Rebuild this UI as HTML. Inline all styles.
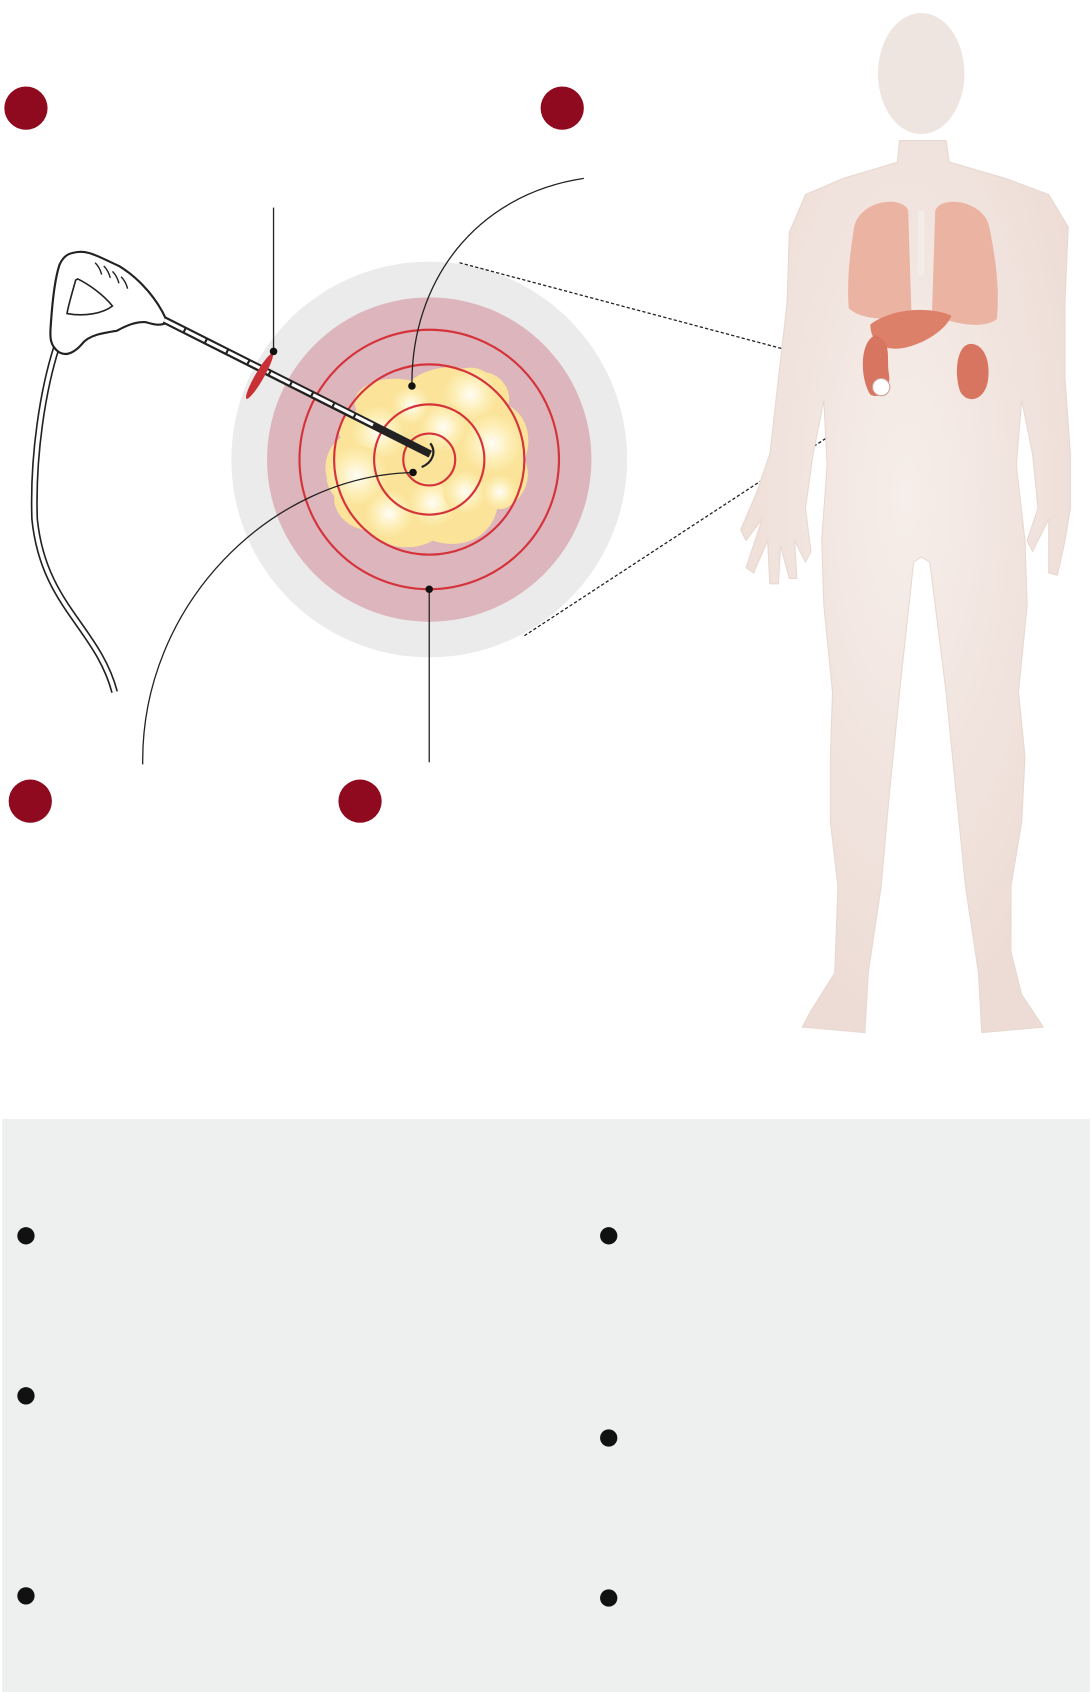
<!DOCTYPE html>
<html><head><meta charset="utf-8"><style>
html,body{margin:0;padding:0;background:#fff;width:1092px;height:1692px;overflow:hidden}
svg{display:block}
</style></head><body>
<svg width="1092" height="1692" viewBox="0 0 1092 1692" xmlns="http://www.w3.org/2000/svg">
<defs>
<radialGradient id="bub" cx="50%" cy="50%" r="50%">
<stop offset="0" stop-color="#fffdf5"/><stop offset="0.6" stop-color="#fdeeb5"/><stop offset="1" stop-color="#fbe49a"/>
</radialGradient>
<radialGradient id="skin" cx="50%" cy="40%" r="60%">
<stop offset="0" stop-color="#f6eeea"/><stop offset="1" stop-color="#eddcd5"/>
</radialGradient>
</defs>
<g transform="scale(1.0812)">
<rect x="2" y="1035" width="1006" height="535" fill="#eef0ef"/>
<g fill="#111">
<circle cx="24" cy="1143" r="8"/><circle cx="24" cy="1291" r="8"/><circle cx="24" cy="1476" r="8"/>
<circle cx="563" cy="1143" r="8"/><circle cx="563" cy="1330" r="8"/><circle cx="563" cy="1478" r="8"/>
</g>
<g fill="#8f0a1f">
<circle cx="24" cy="100" r="20"/><circle cx="520" cy="100" r="20"/>
<circle cx="28" cy="741" r="20"/><circle cx="333" cy="741" r="20"/>
</g>
<circle cx="397" cy="425" r="183" fill="#ebebeb"/>
<circle cx="397" cy="425" r="150" fill="#ddb5bc"/>
<g>
<path d="M330,380 C320,360 350,345 380,352 C395,340 420,335 440,345 C460,340 475,360 470,375 C490,385 492,410 485,425 C495,445 480,470 460,470 C455,495 430,510 400,500 C380,512 350,505 340,490 C320,490 305,470 310,455 C295,440 300,415 315,405 C310,395 318,382 330,380Z" fill="#fbe39a"/>
<circle cx="350" cy="400" r="25" fill="url(#bub)"/>
<circle cx="435" cy="365" r="25" fill="url(#bub)"/>
<circle cx="455" cy="410" r="28" fill="url(#bub)"/>
<circle cx="330" cy="440" r="28" fill="url(#bub)"/>
<circle cx="410" cy="395" r="22" fill="url(#bub)"/>
<circle cx="400" cy="465" r="22" fill="url(#bub)"/>
<circle cx="360" cy="475" r="22" fill="url(#bub)"/>
<circle cx="430" cy="455" r="20" fill="url(#bub)"/>
<circle cx="380" cy="375" r="18" fill="url(#bub)"/>
<circle cx="462" cy="455" r="16" fill="url(#bub)"/>
</g>
<g fill="none" stroke="#d5333b" stroke-width="2">
<circle cx="397" cy="425" r="120"/><circle cx="397" cy="425" r="88"/>
<circle cx="397" cy="425" r="51"/><circle cx="397" cy="425" r="24"/>
</g>
<!-- probe -->
<path d="M52,322 C40,360 30,420 32,480 C40,560 90,580 106,640" fill="none" stroke="#222" stroke-width="6.5"/>
<path d="M52,322 C40,360 30,420 32,480 C40,560 90,580 106,640" fill="none" stroke="#fff" stroke-width="3.5"/>
<path d="M67,234 C80,230 90,237 110,246 C125,255 140,270 150,288 L155,298 C148,302 142,300 135,298 C125,297 115,302 108,306 C95,308 82,310 76,318 C70,325 62,330 55,326 C46,320 46,312 47,300 C48,285 50,260 55,245 C58,238 62,235 67,234Z" fill="#fff" stroke="#222" stroke-width="2" stroke-linejoin="round"/>
<path d="M70,259 C67,270 63,283 62,290 C78,293 95,290 104,283 C95,272 82,263 72,258Z" fill="none" stroke="#222" stroke-width="1.5"/>
<g stroke="#222" stroke-width="1.3" fill="none">
<path d="M88,243 C91,246 93,250 94,254"/><path d="M96,246 C99,249 101,253 102,257"/><path d="M104,251 C107,254 109,258 110,262"/><path d="M112,256 C115,259 117,263 118,267"/>
</g>
<line x1="152" y1="296" x2="398" y2="420" stroke="#222" stroke-width="7"/>
<line x1="152" y1="296" x2="345" y2="393" stroke="#fff" stroke-width="3" stroke-dasharray="20 2"/>
<path d="M398,410 C404,418 400,428 390,432" fill="none" stroke="#222" stroke-width="2"/>
<ellipse cx="240" cy="348" rx="4" ry="24" transform="rotate(30 240 348)" fill="#c93036"/>
<g fill="none" stroke="#222" stroke-width="1.2">
<line x1="253" y1="192" x2="253" y2="325"/>
<path d="M540,165 C440,180 380,260 381,357"/>
<path d="M132,707 C130,560 250,440 382,437"/>
<line x1="397" y1="545" x2="397" y2="705"/>
<line x1="425" y1="243" x2="808" y2="345" stroke-dasharray="3 2"/>
<line x1="485" y1="588" x2="815" y2="372" stroke-dasharray="3 2"/>
</g>
<g fill="#111">
<circle cx="253" cy="325" r="3.5"/><circle cx="381" cy="357" r="3.5"/>
<circle cx="382" cy="437" r="3.5"/><circle cx="397" cy="545" r="3.5"/>
</g>
<!-- body -->
<path d="M832,130 L830,150 L780,165 L745,180 L730,215 L728,280 L720,350 L712,420 L700,455 L685,490 L690,500 L705,480 L690,525 L697,530 L710,500 L712,540 L720,540 L722,505 L730,535 L737,535 L735,500 L745,520 L750,510 L745,470 L752,420 L762,370 L765,430 L760,500 L762,560 L770,640 L768,700 L768,760 L775,820 L772,900 L750,935 L742,950 L800,955 L803,900 L815,820 L822,740 L832,640 L845,520 L852,515 L860,520 L875,640 L885,740 L893,820 L905,900 L908,955 L965,950 L945,920 L935,880 L935,820 L945,760 L948,700 L942,640 L950,560 L948,500 L940,430 L945,370 L955,420 L960,470 L950,500 L955,510 L970,480 L970,530 L978,532 L985,500 L990,470 L990,420 L985,350 L985,280 L988,210 L970,180 L930,165 L878,150 L875,130Z" fill="url(#skin)" stroke="#e8d8d0" stroke-width="1" stroke-linejoin="round"/>
<ellipse cx="852" cy="68" rx="40" ry="56" fill="#efe5e0"/>
<path d="M790,210 C795,185 835,180 840,195 L843,290 C820,298 795,295 785,285 C783,260 786,235 790,210Z" fill="#ebb3a2"/>
<path d="M915,210 C910,185 870,180 865,195 L862,290 C880,300 910,305 922,295 C925,265 920,235 915,210Z" fill="#ebb3a2"/>
<rect x="849" y="195" width="6" height="60" fill="#f3ece8"/>
<path d="M805,300 C825,285 860,283 880,292 C875,305 855,318 835,322 C815,325 805,315 805,300Z" fill="#dd806a"/>
<path d="M810,310 C795,315 795,350 805,365 C815,370 825,360 822,345 C820,330 825,315 810,310Z" fill="#d77561"/>
<path d="M898,318 C885,318 882,345 888,362 C895,375 912,370 914,350 C916,330 908,318 898,318Z" fill="#d77561"/>
<circle cx="815" cy="358" r="8" fill="#fff" stroke="#c9a49a"/>
</g>
</svg>
</body></html>
